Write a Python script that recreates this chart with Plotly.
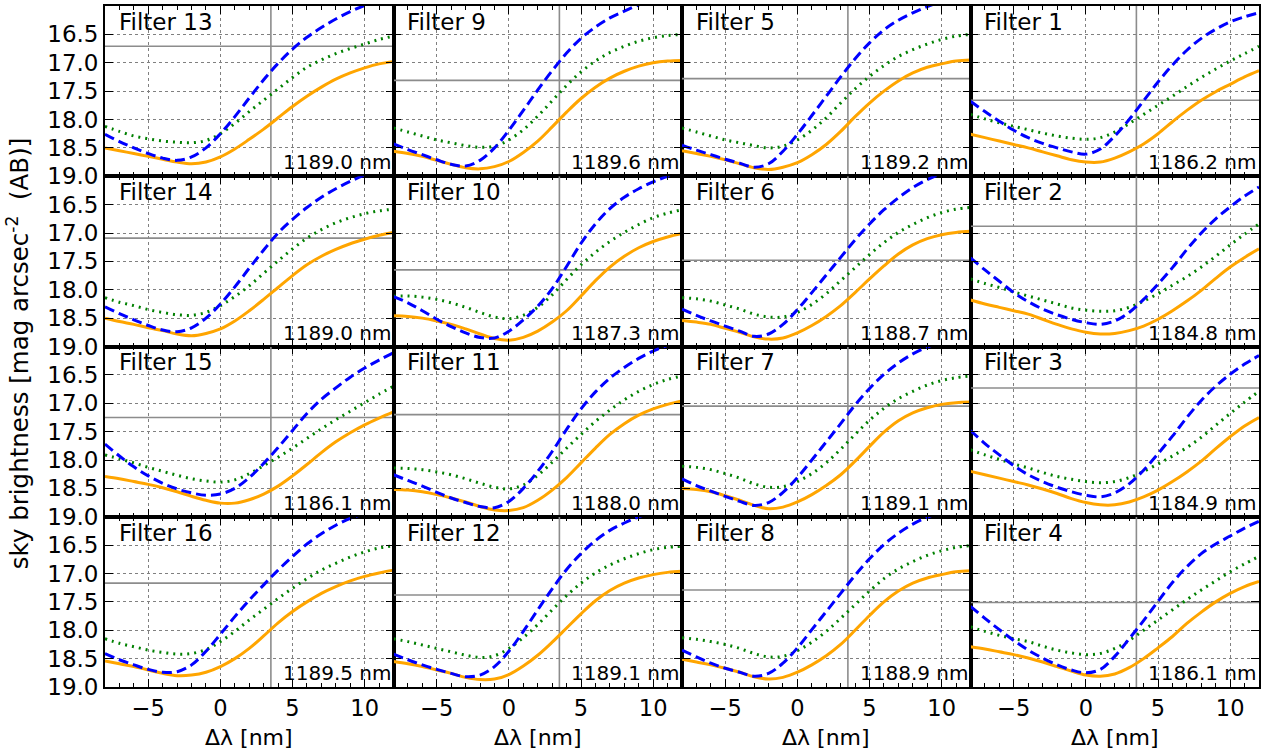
import plotly.graph_objects as go
from plotly.subplots import make_subplots

# ---------------- data ----------------
X = [-8, -7, -6, -5, -4, -3, -2, -1, 0, 1, 2, 3, 4, 5, 6, 7, 8, 9, 10, 11, 12]

# panel layout (row-major): filter numbers
grid_filters = [[13, 9, 5, 1],
                [14, 10, 6, 2],
                [15, 11, 7, 3],
                [16, 12, 8, 4]]

wavelength = {13: "1189.0", 9: "1189.6", 5: "1189.2", 1: "1186.2",
              14: "1189.0", 10: "1187.3", 6: "1188.7", 2: "1184.8",
              15: "1186.1", 11: "1188.0", 7: "1189.1", 3: "1184.9",
              16: "1189.5", 12: "1189.1", 8: "1188.9", 4: "1186.1"}

hline = {13: 16.71, 9: 17.31, 5: 17.28, 1: 17.66,
         14: 17.09, 10: 17.65, 6: 17.48, 2: 16.88,
         15: 17.25, 11: 17.20, 7: 17.05, 3: 16.73,
         16: 17.17, 12: 17.38, 8: 17.29, 4: 17.51}

vline_x = 3.5

orange = {
    13: [18.50, 18.55, 18.60, 18.65, 18.70, 18.75, 18.78, 18.75, 18.66, 18.52, 18.35, 18.17, 17.97, 17.77, 17.59, 17.43, 17.29, 17.18, 17.09, 17.02, 16.98],
    9:  [18.56, 18.60, 18.65, 18.72, 18.79, 18.85, 18.87, 18.83, 18.74, 18.58, 18.38, 18.13, 17.87, 17.63, 17.43, 17.27, 17.15, 17.06, 17.00, 16.97, 16.96],
    5:  [18.55, 18.60, 18.65, 18.71, 18.78, 18.85, 18.88, 18.84, 18.76, 18.62, 18.44, 18.21, 17.95, 17.71, 17.50, 17.32, 17.18, 17.08, 17.02, 16.97, 16.95],
    1:  [18.26, 18.32, 18.38, 18.44, 18.50, 18.57, 18.64, 18.71, 18.75, 18.75, 18.68, 18.57, 18.43, 18.25, 18.04, 17.84, 17.66, 17.51, 17.38, 17.25, 17.14],
    14: [18.50, 18.56, 18.61, 18.67, 18.72, 18.78, 18.81, 18.77, 18.69, 18.55, 18.37, 18.17, 17.96, 17.75, 17.56, 17.41, 17.29, 17.19, 17.11, 17.04, 16.99],
    10: [18.46, 18.47, 18.50, 18.55, 18.61, 18.69, 18.78, 18.86, 18.89, 18.84, 18.73, 18.57, 18.37, 18.11, 17.84, 17.60, 17.41, 17.26, 17.15, 17.07, 17.01],
    6:  [18.54, 18.57, 18.61, 18.68, 18.75, 18.83, 18.87, 18.85, 18.76, 18.63, 18.47, 18.28, 18.05, 17.81, 17.58, 17.37, 17.21, 17.10, 17.03, 16.99, 16.97],
    2:  [18.18, 18.25, 18.31, 18.37, 18.43, 18.52, 18.61, 18.69, 18.75, 18.78, 18.77, 18.72, 18.64, 18.52, 18.37, 18.20, 18.01, 17.80, 17.60, 17.43, 17.28],
    15: [18.29, 18.33, 18.38, 18.43, 18.49, 18.56, 18.64, 18.71, 18.76, 18.76, 18.70, 18.60, 18.46, 18.28, 18.08, 17.87, 17.68, 17.52, 17.38, 17.26, 17.15],
    11: [18.52, 18.53, 18.56, 18.61, 18.67, 18.74, 18.82, 18.88, 18.89, 18.84, 18.71, 18.53, 18.31, 18.05, 17.79, 17.55, 17.36, 17.21, 17.10, 17.02, 16.96],
    7:  [18.50, 18.52, 18.56, 18.63, 18.71, 18.80, 18.86, 18.83, 18.74, 18.61, 18.45, 18.26, 18.02, 17.76, 17.51, 17.31, 17.17, 17.08, 17.02, 16.99, 16.98],
    3:  [18.20, 18.26, 18.32, 18.38, 18.44, 18.51, 18.59, 18.68, 18.75, 18.79, 18.79, 18.74, 18.65, 18.53, 18.38, 18.21, 18.02, 17.80, 17.59, 17.40, 17.25],
    16: [18.54, 18.59, 18.64, 18.70, 18.76, 18.80, 18.79, 18.74, 18.64, 18.50, 18.32, 18.10, 17.87, 17.67, 17.50, 17.35, 17.23, 17.13, 17.05, 16.99, 16.94],
    12: [18.55, 18.59, 18.64, 18.70, 18.76, 18.83, 18.87, 18.86, 18.78, 18.63, 18.44, 18.21, 17.96, 17.71, 17.48, 17.30, 17.17, 17.08, 17.02, 16.98, 16.96],
    8:  [18.51, 18.56, 18.61, 18.67, 18.74, 18.82, 18.86, 18.83, 18.74, 18.61, 18.45, 18.25, 18.00, 17.74, 17.50, 17.31, 17.17, 17.08, 17.02, 16.97, 16.95],
    4:  [18.29, 18.33, 18.38, 18.43, 18.49, 18.56, 18.64, 18.72, 18.79, 18.81, 18.77, 18.66, 18.50, 18.31, 18.11, 17.88, 17.68, 17.50, 17.35, 17.23, 17.14],
}

blue = {
    13: [18.26, 18.39, 18.50, 18.60, 18.68, 18.72, 18.66, 18.50, 18.25, 17.95, 17.62, 17.30, 17.01, 16.76, 16.55, 16.38, 16.23, 16.10, 15.99, 15.89, 15.80],
    9:  [18.43, 18.53, 18.62, 18.71, 18.79, 18.82, 18.72, 18.50, 18.19, 17.84, 17.48, 17.14, 16.83, 16.57, 16.37, 16.21, 16.09, 15.98, 15.89, 15.81, 15.75],
    5:  [18.45, 18.54, 18.62, 18.70, 18.77, 18.84, 18.78, 18.56, 18.26, 17.93, 17.59, 17.25, 16.93, 16.65, 16.42, 16.25, 16.12, 16.01, 15.92, 15.84, 15.78],
    1:  [17.68, 17.86, 18.03, 18.19, 18.32, 18.42, 18.50, 18.57, 18.61, 18.52, 18.29, 18.00, 17.67, 17.34, 17.04, 16.78, 16.57, 16.41, 16.28, 16.19, 16.12],
    14: [18.30, 18.42, 18.53, 18.63, 18.71, 18.74, 18.67, 18.50, 18.25, 17.95, 17.62, 17.30, 17.00, 16.76, 16.55, 16.37, 16.22, 16.09, 15.98, 15.89, 15.82],
    10: [18.12, 18.23, 18.37, 18.52, 18.65, 18.76, 18.84, 18.85, 18.73, 18.53, 18.29, 17.98, 17.59, 17.18, 16.84, 16.57, 16.37, 16.22, 16.10, 16.00, 15.92],
    6:  [18.34, 18.45, 18.55, 18.64, 18.73, 18.82, 18.78, 18.61, 18.35, 18.05, 17.74, 17.43, 17.12, 16.84, 16.59, 16.38, 16.20, 16.06, 15.95, 15.86, 15.79],
    2:  [17.44, 17.65, 17.85, 18.05, 18.21, 18.34, 18.44, 18.52, 18.58, 18.61, 18.55, 18.40, 18.17, 17.90, 17.61, 17.29, 17.00, 16.75, 16.54, 16.35, 16.19],
    15: [17.72, 17.93, 18.12, 18.28, 18.41, 18.51, 18.58, 18.62, 18.60, 18.50, 18.31, 18.06, 17.78, 17.48, 17.18, 16.93, 16.73, 16.54, 16.38, 16.24, 16.11],
    11: [18.26, 18.36, 18.46, 18.57, 18.67, 18.75, 18.82, 18.84, 18.73, 18.50, 18.20, 17.85, 17.46, 17.10, 16.80, 16.56, 16.37, 16.21, 16.08, 15.98, 15.90],
    7:  [18.33, 18.45, 18.55, 18.64, 18.73, 18.80, 18.75, 18.57, 18.31, 18.00, 17.68, 17.36, 17.03, 16.74, 16.49, 16.29, 16.13, 16.01, 15.92, 15.85, 15.79],
    3:  [17.48, 17.71, 17.91, 18.10, 18.26, 18.38, 18.48, 18.56, 18.62, 18.65, 18.58, 18.42, 18.18, 17.89, 17.58, 17.25, 16.95, 16.70, 16.49, 16.31, 16.16],
    16: [18.41, 18.52, 18.61, 18.69, 18.74, 18.73, 18.61, 18.37, 18.07, 17.76, 17.47, 17.20, 16.94, 16.70, 16.48, 16.30, 16.15, 16.03, 15.94, 15.87, 15.82],
    12: [18.42, 18.52, 18.61, 18.69, 18.76, 18.82, 18.79, 18.64, 18.37, 18.02, 17.64, 17.27, 16.93, 16.65, 16.42, 16.24, 16.11, 16.00, 15.92, 15.84, 15.78],
    8:  [18.35, 18.47, 18.58, 18.67, 18.74, 18.81, 18.76, 18.58, 18.31, 17.99, 17.67, 17.35, 17.03, 16.74, 16.49, 16.29, 16.13, 16.01, 15.92, 15.85, 15.79],
    4:  [17.58, 17.79, 17.99, 18.18, 18.35, 18.49, 18.61, 18.70, 18.75, 18.69, 18.46, 18.15, 17.83, 17.49, 17.16, 16.88, 16.65, 16.48, 16.34, 16.20, 16.08],
}

green = {
    13: [18.12, 18.21, 18.29, 18.34, 18.38, 18.40, 18.41, 18.37, 18.25, 18.07, 17.86, 17.66, 17.46, 17.26, 17.08, 16.95, 16.84, 16.75, 16.67, 16.59, 16.53],
    9:  [18.15, 18.22, 18.29, 18.36, 18.41, 18.46, 18.49, 18.47, 18.36, 18.18, 17.94, 17.67, 17.40, 17.16, 16.97, 16.82, 16.71, 16.62, 16.56, 16.52, 16.50],
    5:  [18.15, 18.22, 18.29, 18.36, 18.41, 18.46, 18.50, 18.47, 18.36, 18.19, 17.97, 17.71, 17.46, 17.24, 17.05, 16.89, 16.77, 16.67, 16.59, 16.53, 16.50],
    1:  [17.91, 17.99, 18.06, 18.12, 18.18, 18.24, 18.29, 18.33, 18.35, 18.32, 18.22, 18.07, 17.91, 17.75, 17.59, 17.42, 17.26, 17.11, 16.97, 16.84, 16.71],
    14: [18.14, 18.22, 18.28, 18.35, 18.40, 18.44, 18.45, 18.40, 18.28, 18.12, 17.93, 17.71, 17.49, 17.28, 17.09, 16.94, 16.82, 16.73, 16.66, 16.61, 16.58],
    10: [18.11, 18.11, 18.13, 18.17, 18.23, 18.31, 18.40, 18.48, 18.51, 18.45, 18.31, 18.09, 17.82, 17.56, 17.34, 17.15, 16.99, 16.85, 16.73, 16.65, 16.59],
    6:  [18.14, 18.16, 18.20, 18.27, 18.34, 18.43, 18.48, 18.48, 18.40, 18.26, 18.07, 17.84, 17.61, 17.38, 17.17, 16.99, 16.85, 16.73, 16.64, 16.58, 16.55],
    2:  [17.81, 17.89, 17.96, 18.04, 18.11, 18.18, 18.25, 18.32, 18.36, 18.38, 18.37, 18.31, 18.20, 18.07, 17.92, 17.77, 17.60, 17.41, 17.21, 17.02, 16.84],
    15: [17.91, 17.98, 18.05, 18.13, 18.20, 18.27, 18.33, 18.37, 18.39, 18.35, 18.24, 18.10, 17.95, 17.79, 17.62, 17.45, 17.29, 17.14, 16.99, 16.84, 16.70],
    11: [18.14, 18.15, 18.17, 18.21, 18.26, 18.33, 18.41, 18.48, 18.51, 18.44, 18.27, 18.04, 17.79, 17.55, 17.32, 17.12, 16.94, 16.79, 16.67, 16.58, 16.52],
    7:  [18.11, 18.13, 18.17, 18.24, 18.32, 18.42, 18.48, 18.47, 18.38, 18.24, 18.05, 17.81, 17.55, 17.30, 17.09, 16.92, 16.79, 16.68, 16.60, 16.55, 16.52],
    3:  [17.82, 17.91, 17.99, 18.07, 18.14, 18.22, 18.29, 18.34, 18.38, 18.40, 18.38, 18.31, 18.20, 18.07, 17.93, 17.78, 17.60, 17.39, 17.18, 16.98, 16.79],
    16: [18.15, 18.23, 18.29, 18.35, 18.39, 18.42, 18.41, 18.34, 18.20, 18.02, 17.82, 17.63, 17.44, 17.26, 17.09, 16.94, 16.82, 16.71, 16.62, 16.55, 16.51],
    12: [18.15, 18.20, 18.26, 18.32, 18.38, 18.44, 18.48, 18.45, 18.32, 18.13, 17.90, 17.64, 17.39, 17.17, 16.99, 16.85, 16.74, 16.65, 16.58, 16.54, 16.52],
    8:  [18.13, 18.16, 18.20, 18.25, 18.32, 18.41, 18.47, 18.46, 18.36, 18.21, 18.02, 17.79, 17.55, 17.31, 17.09, 16.92, 16.79, 16.68, 16.60, 16.54, 16.51],
    4:  [17.94, 18.02, 18.09, 18.15, 18.20, 18.28, 18.35, 18.40, 18.43, 18.41, 18.32, 18.18, 18.00, 17.82, 17.64, 17.46, 17.29, 17.13, 16.97, 16.83, 16.70],
}

x_range = [-8, 12]
y_range = [19.0, 16.0]
x_ticks = [-5, 0, 5, 10]
y_ticks = [16.5, 17.0, 17.5, 18.0, 18.5, 19.0]
x_minor = list(range(-8, 13))

FONT = "DejaVu Sans"

# ---------------- figure ----------------
fig = make_subplots(rows=4, cols=4, horizontal_spacing=0, vertical_spacing=0)

for r in range(4):
    for c in range(4):
        f = grid_filters[r][c]
        row, col = r + 1, c + 1
        fig.add_trace(go.Scatter(x=x_range, y=[hline[f], hline[f]], mode="lines",
                                 line=dict(color="#8c8c8c", width=1.6),
                                 showlegend=False, hoverinfo="skip"), row=row, col=col)
        fig.add_trace(go.Scatter(x=[vline_x, vline_x], y=[16.0, 19.0], mode="lines",
                                 line=dict(color="#8c8c8c", width=1.6),
                                 showlegend=False, hoverinfo="skip"), row=row, col=col)
        fig.add_trace(go.Scatter(x=X, y=orange[f], mode="lines",
                                 line=dict(color="#FFA500", width=3, shape="spline", smoothing=1.0),
                                 showlegend=False), row=row, col=col)
        fig.add_trace(go.Scatter(x=X, y=green[f], mode="lines",
                                 line=dict(color="#008000", width=3, dash="2px,5px", shape="spline", smoothing=1.0),
                                 showlegend=False), row=row, col=col)
        fig.add_trace(go.Scatter(x=X, y=blue[f], mode="lines",
                                 line=dict(color="#0000FF", width=3, dash="10px,5px", shape="spline", smoothing=1.0),
                                 showlegend=False), row=row, col=col)

        idx = r * 4 + c + 1
        sfx = "" if idx == 1 else str(idx)
        fig.add_annotation(text=f"Filter {f}", xref=f"x{sfx} domain", yref=f"y{sfx} domain",
                           x=0.04, y=0.995, xanchor="left", yanchor="top", showarrow=False,
                           font=dict(family=FONT, size=23, color="black"))
        fig.add_annotation(text=f"{wavelength[f]} nm", xref=f"x{sfx} domain", yref=f"y{sfx} domain",
                           x=1.0, y=0.0, xanchor="right", yanchor="bottom", showarrow=False,
                           font=dict(family=FONT, size=20, color="black"))

        fig.update_xaxes(row=row, col=col, range=x_range, tickvals=x_ticks,
                         ticks="inside", ticklen=8, tickwidth=1.2, tickcolor="black",
                         showline=True, linecolor="black", linewidth=1.8, mirror="allticks",
                         showgrid=True, gridcolor="#808080", gridwidth=1, griddash="dot",
                         zeroline=False, showticklabels=(r == 3),
                         tickfont=dict(family=FONT, size=22.5, color="black"),
                         minor=dict(tickvals=x_minor, ticks="inside", ticklen=4, tickcolor="black", showgrid=False))
        fig.update_yaxes(row=row, col=col, range=y_range, tickvals=y_ticks,
                         ticktext=[f"{v:.1f}" for v in y_ticks],
                         ticks="inside", ticklen=8, tickwidth=1.2, tickcolor="black",
                         showline=True, linecolor="black", linewidth=1.8, mirror="allticks",
                         showgrid=True, gridcolor="#808080", gridwidth=1, griddash="dot",
                         zeroline=False, showticklabels=(c == 0),
                         tickfont=dict(family=FONT, size=23, color="black"))

# x-axis label under each column
for c in range(4):
    sfx = str(12 + c + 1)
    fig.add_annotation(text="Δλ [nm]", xref=f"x{sfx} domain", yref="paper",
                       x=0.5, y=-0.0745, xanchor="center", yanchor="middle", showarrow=False,
                       font=dict(family=FONT, size=22, color="black"))

fig.add_annotation(text="sky brightness [mag arcsec<sup>-2</sup>  (AB)]", xref="paper", yref="paper",
                   x=-0.0755, y=0.49, textangle=-90, showarrow=False, xanchor="center", yanchor="middle",
                   font=dict(family=FONT, size=24.5, color="black"))

fig.update_layout(width=1265, height=753, margin=dict(l=105, r=4, t=4, b=66),
                  plot_bgcolor="white", paper_bgcolor="white",
                  font=dict(family=FONT, color="black"))

fig.write_html("out.html", config={"displayModeBar": False},
               post_script="document.body.style.margin='0px';document.body.style.overflow='hidden';")
